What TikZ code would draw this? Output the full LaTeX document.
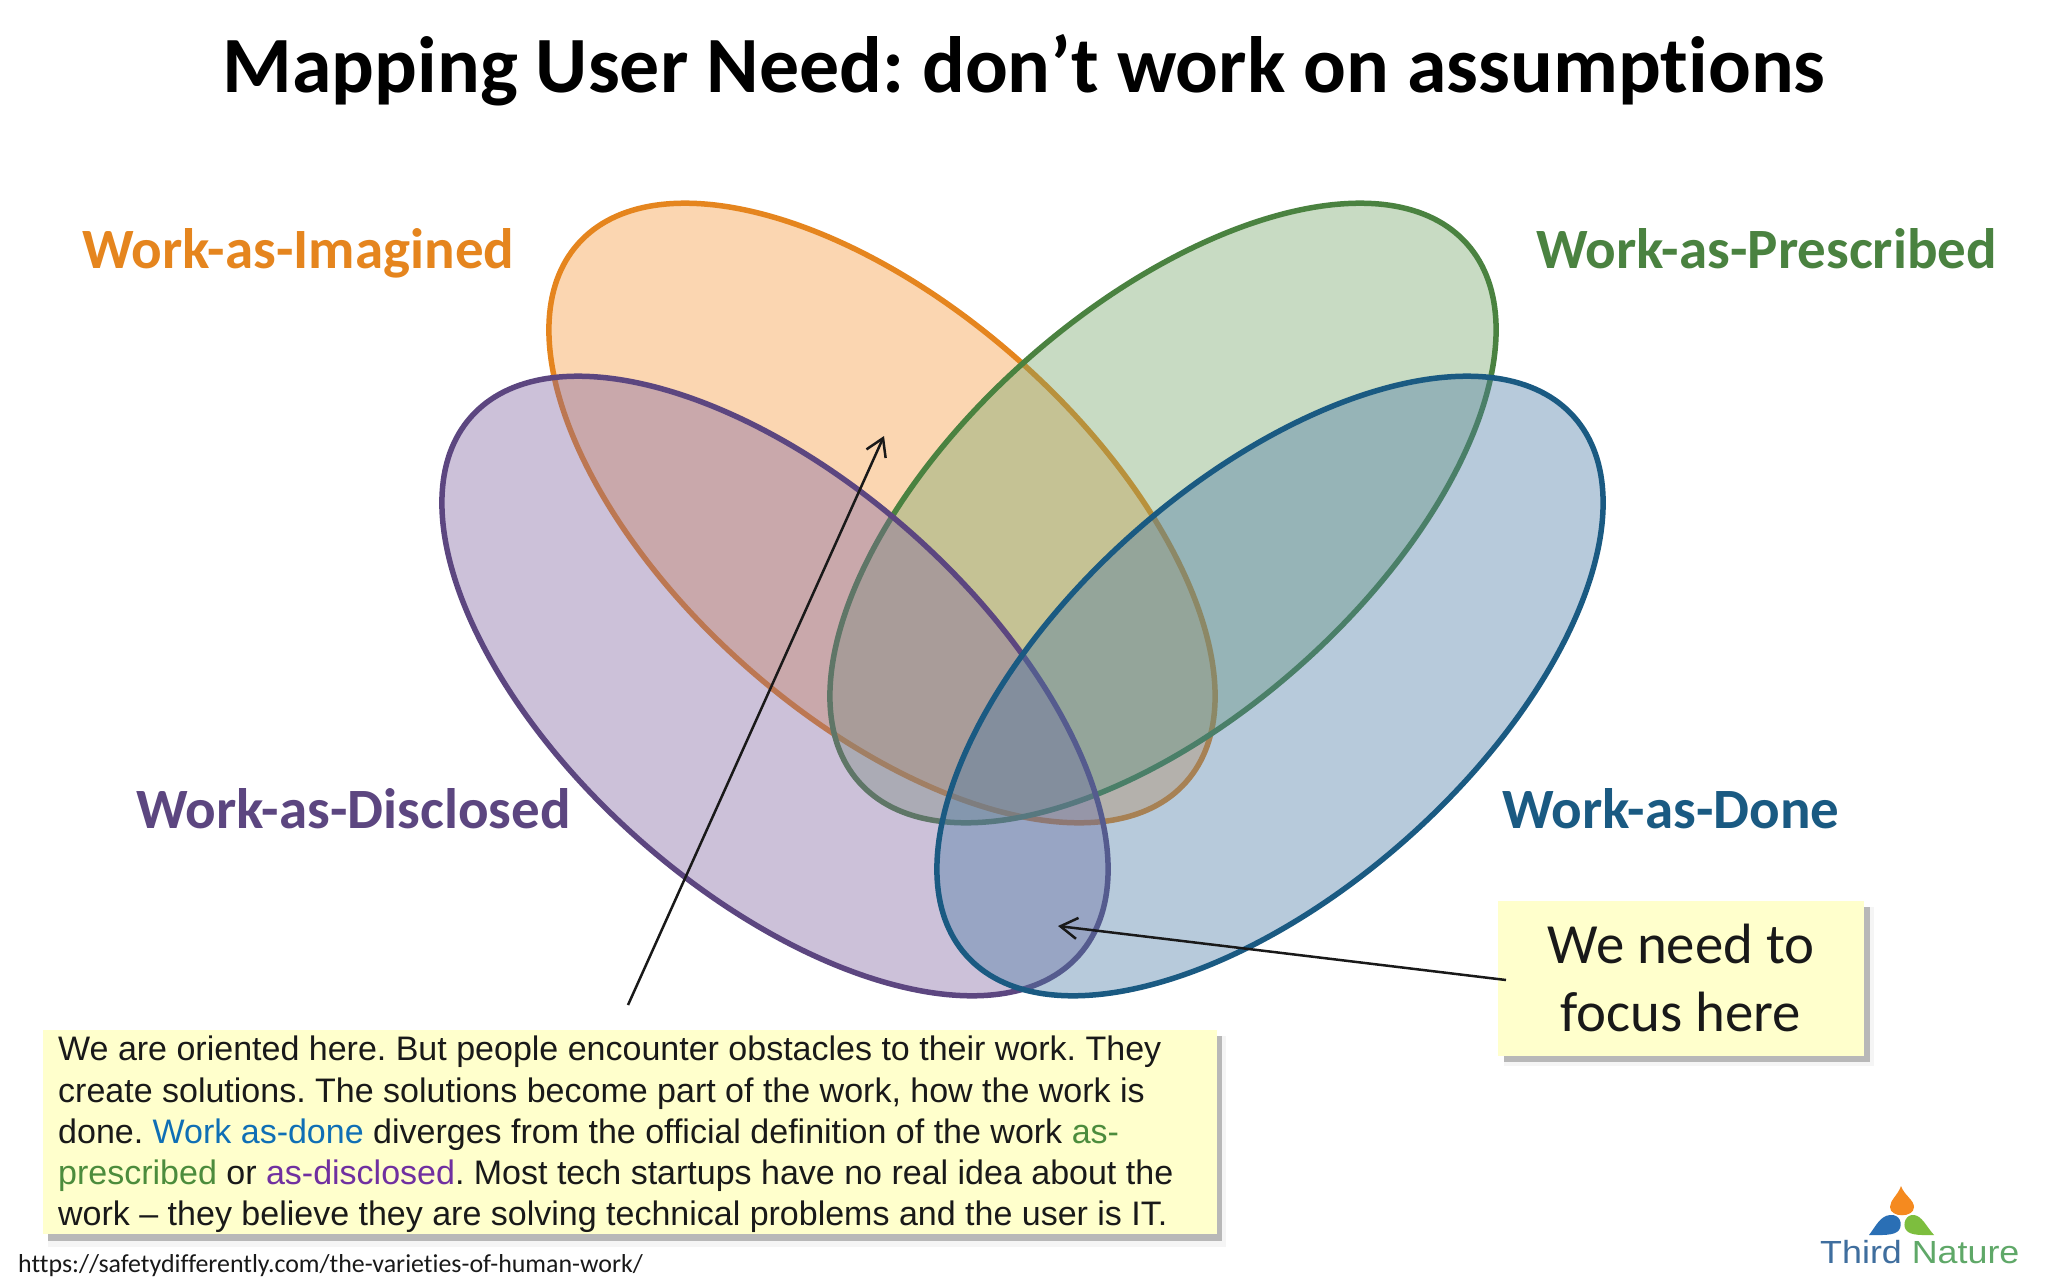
\documentclass[tikz,border=0pt]{standalone}
\usepackage{fontspec}
\setmainfont{Carlito}[Ligatures=CommonOff]
\newfontfamily\arialf{Liberation Sans}
\usetikzlibrary{arrows.meta}
\definecolor{cOrange}{HTML}{E5851E}
\definecolor{cGreen}{HTML}{4A8240}
\definecolor{cBlue}{HTML}{1A5A82}
\definecolor{cPurple}{HTML}{5C4680}
\definecolor{fOrange}{HTML}{F79A3C}
\definecolor{fGreen}{HTML}{76A569}
\definecolor{fBlue}{HTML}{4B7BA5}
\definecolor{fPurple}{HTML}{8064A2}
\definecolor{note}{HTML}{FFFFCC}
\definecolor{tBlue}{HTML}{0F6FB5}
\definecolor{tGreen}{HTML}{4C8C3C}
\definecolor{tPurple}{HTML}{7030A0}
\tikzset{
  petal/.style={line width=5.5pt,fill opacity=.4},
  label/.style={inner sep=0pt,anchor=base west,font=\fontsize{57}{57}\selectfont\bfseries},
  notebox/.style={fill=note,draw=none},
  noteshadow/.style={fill=black!28,draw=none},
  notehalo/.style={fill=black!4,draw=none},
  pointer/.style={line width=2.5pt,draw=black!90,-{Straight Barb[length=17pt,width=21pt,line width=2.5pt]}}
}
\begin{document}
\frenchspacing
\begin{tikzpicture}[x=1pt,y=-1pt]
\useasboundingbox (0,0) rectangle (2048,1280);
\fill[white] (0,0) rectangle (2048,1280);
\node[inner sep=0pt,anchor=base,font=\fontsize{79.8}{80}\selectfont\bfseries] (title) at (1024,92) {Mapping User Need: don’t work on assumptions};
% petals
\draw[petal,draw=cOrange,fill=fOrange,shift={(882,513)},rotate=-41.5] (0,0) ellipse [x radius=406pt,y radius=205pt];
\draw[petal,draw=cGreen,fill=fGreen,shift={(1163,513)},rotate=41.5] (0,0) ellipse [x radius=406pt,y radius=205pt];
\draw[petal,draw=cPurple,fill=fPurple,shift={(775,686)},rotate=-41.5] (0,0) ellipse [x radius=406pt,y radius=205pt];
\draw[petal,draw=cBlue,fill=fBlue,shift={(1270,686)},rotate=41.5] (0,0) ellipse [x radius=406pt,y radius=205pt];
% labels
\node[label,text=cOrange] (li) at (82,268) {Work-as-Imagined};
\node[label,text=cGreen] (lp) at (1536,268) {Work-as-Prescribed};
\node[label,text=cPurple] (ld) at (136,828) {Work-as-Disclosed};
\node[label,text=cBlue] (ln) at (1502,828) {Work-as-Done};
% note boxes
\fill[notehalo] (48,1036) rectangle (1226,1247);
\fill[noteshadow] (48,1036) rectangle (1222,1241);
\fill[notebox] (43,1030) rectangle (1217,1234);
\node[inner sep=0pt,anchor=north west,align=left,text=black!90,font=\arialf\fontsize{34}{41.25}\selectfont] (longnote) at (58,1036)
 {We are oriented here. But people encounter obstacles to their work. They\\
 create solutions. The solutions become part of the work, how the work is\\
 done. \textcolor{tBlue}{Work as-done} diverges from the official definition of the work \textcolor{tGreen}{as-}\\
 \textcolor{tGreen}{prescribed} or \textcolor{tPurple}{as-disclosed}. Most tech startups have no real idea about the\\
 work – they believe they are solving technical problems and the user is IT.};
\fill[notehalo] (1504,907) rectangle (1874,1066);
\fill[noteshadow] (1504,907) rectangle (1870,1062);
\fill[notebox] (1498,901) rectangle (1864,1056);
\node[inner sep=0pt,anchor=north,align=center,text=black!90,font=\fontsize{56.8}{68}\selectfont] (focus) at (1681,924)
 {We need to\\ focus here};
% pointers
\coordinate (p1s) at (628,1005);
\coordinate (p1e) at (884,436);
\coordinate (p2s) at (1506,980);
\coordinate (p2e) at (1058,926);
\draw[pointer] (p1s) -- (p1e);
\draw[pointer] (p2s) -- (p2e);
% url
\node[inner sep=0pt,anchor=base west,text=black!90,font=\fontsize{25.9}{26}\selectfont] (url) at (18,1272) {https://safetydifferently.com/the-varieties-of-human-work/};
% logo
\fill[fill={rgb,255:red,245;green,138;blue,31}] (1901,1186) .. controls (1904,1195) and (1914,1200) .. (1914,1207) .. controls (1914,1218) and (1890,1218) .. (1890,1207) .. controls (1890,1200) and (1898,1195) .. (1901,1186) -- cycle;
\fill[fill={rgb,255:red,42;green,111;blue,181}] (1869,1235) .. controls (1876,1226) and (1880,1216) .. (1890,1215) .. controls (1900,1214) and (1903,1224) .. (1899,1230) .. controls (1895,1236) and (1880,1235) .. (1869,1235) -- cycle;
\fill[fill={rgb,255:red,125;green,190;blue,62}] (1934,1235) .. controls (1926,1226) and (1922,1216) .. (1914,1215) .. controls (1906,1214) and (1902,1224) .. (1906,1230) .. controls (1910,1236) and (1924,1235) .. (1934,1235) -- cycle;
\node[inner sep=0pt,anchor=base west,xscale=1.12,transform shape,font=\arialf\fontsize{32}{32}\selectfont] (logotext) at (1820,1263) {\textcolor[HTML]{3F6E9E}{Third} \textcolor[HTML]{5FA868}{Nature}};
\end{tikzpicture}
\end{document}
